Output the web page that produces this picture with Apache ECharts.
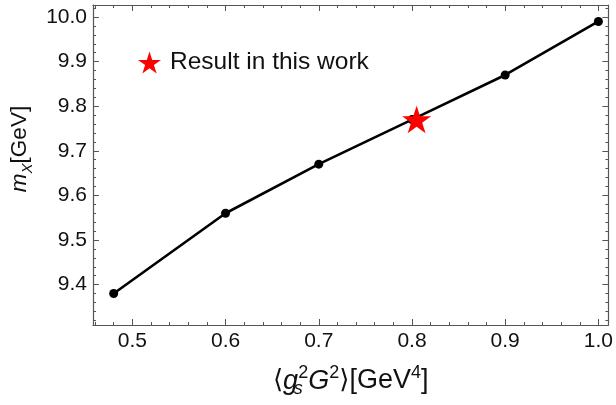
<!DOCTYPE html>
<html><head><meta charset="utf-8">
<script src="https://cdn.jsdelivr.net/npm/echarts@6/dist/echarts.min.js"></script>
<style>html,body{margin:0;padding:0;background:#fff}#c{width:616px;height:405px}</style>
</head><body><div id="c"></div>
<script>
// ---- data ----
const condensate = [0.48, 0.6, 0.7, 0.8, 0.9, 1.0];          // <g_s^2 G^2> [GeV^4]
const massX = [9.38, 9.56, 9.67, 9.77, 9.87, 9.99];           // m_X [GeV]
const resultPoint = [0.805, 9.77];                             // "Result in this work"
const resultLabel = 'Result in this work';
const xMajorTicks = [0.5, 0.6, 0.7, 0.8, 0.9, 1.0];
const xMinorTicks = [0.46, 0.48, 0.52, 0.54, 0.56, 0.58, 0.62, 0.64, 0.66, 0.68, 0.72, 0.74, 0.76, 0.78, 0.82, 0.84, 0.86, 0.88, 0.92, 0.94, 0.96, 0.98];
const yMajorTicks = [9.4, 9.5, 9.6, 9.7, 9.8, 9.9, 10.0];
const yMinorTicks = [9.32, 9.34, 9.36, 9.38, 9.42, 9.44, 9.46, 9.48, 9.52, 9.54, 9.56, 9.58, 9.62, 9.64, 9.66, 9.68, 9.72, 9.74, 9.76, 9.78, 9.82, 9.84, 9.86, 9.88, 9.92, 9.94, 9.96, 9.98, 10.02];

// ---- layout / style ----
const X_MIN = 0.4578, X_MAX = 1.0107;
const Y_MIN = 9.3094, Y_MAX = 10.0269;
const FRAME = '#555';
const FONT = 'Liberation Sans';
const starPath = 'path://M100,0 L122.45,69.1 L195.1,69.1 L136.3,111.8 L158.8,180.9 L100,138.2 L41.2,180.9 L63.7,111.8 L4.9,69.1 L77.55,69.1 Z';

function mkAxis(kind, position, ticks, len, withLabels, withLine, extra) {
  const a = {
    type: 'value', position: position,
    min: kind === 'x' ? X_MIN : Y_MIN, max: kind === 'x' ? X_MAX : Y_MAX,
    splitLine: {show: false},
    axisLine: {show: withLine, onZero: false, lineStyle: {color: FRAME, width: 1.2}},
    axisTick: {show: true, inside: true, length: len, customValues: ticks, lineStyle: {color: FRAME, width: 1}},
    axisLabel: withLabels ? {
      show: true, customValues: ticks, margin: 6,
      formatter: v => v.toFixed(1), fontSize: 21, color: '#111', fontFamily: FONT
    } : {show: false}
  };
  return Object.assign(a, extra || {});
}

const xTitle = {
  name: '{a|\u27E8}{i|g}{sub|s}{sup|2}{i|G}{sup|2}{a|\u27E9}{t|[GeV}{sup|4}{t|]}',
  nameLocation: 'middle', nameGap: 39,
  nameTextStyle: {
    rich: {
      a: {fontFamily: 'DejaVu Sans', fontSize: 26, lineHeight: 34, color: '#111'},
      i: {fontFamily: FONT, fontStyle: 'italic', fontSize: 27, lineHeight: 34, color: '#111'},
      t: {fontFamily: FONT, fontSize: 27, lineHeight: 34, color: '#111'},
      sub: {fontFamily: FONT, fontStyle: 'italic', fontSize: 18, lineHeight: 17, width: 0.1, align: 'left', verticalAlign: 'bottom', color: '#111'},
      sup: {fontFamily: FONT, fontSize: 18, lineHeight: 17, verticalAlign: 'top', color: '#111'}
    }
  }
};
const yTitle = {
  name: '{i|m}{sub|X}{t|[GeV]}',
  nameLocation: 'middle', nameGap: 57, nameRotate: 90,
  nameTextStyle: {
    padding: [0, 0, 0, 32],
    rich: {
      i: {fontFamily: FONT, fontStyle: 'italic', fontSize: 22.5, lineHeight: 30, color: '#111'},
      t: {fontFamily: FONT, fontSize: 22.5, lineHeight: 30, color: '#111'},
      sub: {fontFamily: FONT, fontStyle: 'italic', fontSize: 15, lineHeight: 15, verticalAlign: 'bottom', color: '#111'}
    }
  }
};

const chart = echarts.init(document.getElementById('c'), null, {renderer: 'canvas'});
chart.setOption({
  animation: false,
  backgroundColor: '#fff',
  grid: {left: 93, right: 6, top: 5, bottom: 80, containLabel: false},
  legend: {
    data: [{name: resultLabel, icon: starPath, itemStyle: {color: '#ff0000', opacity: 1}}],
    left: 138, top: 50, padding: 0, itemWidth: 23, itemHeight: 23,
    textStyle: {fontSize: 24.5, color: '#111', fontFamily: FONT, padding: [0, 0, 0, 4]},
    selectedMode: false
  },
  xAxis: [
    mkAxis('x', 'bottom', xMajorTicks, 6, true, true, xTitle),
    mkAxis('x', 'bottom', xMinorTicks, 3, false, false),
    mkAxis('x', 'top', xMajorTicks, 6, false, true),
    mkAxis('x', 'top', xMinorTicks, 3, false, false)
  ],
  yAxis: [
    mkAxis('y', 'left', yMajorTicks, 6, true, true, yTitle),
    mkAxis('y', 'left', yMinorTicks, 3, false, false),
    mkAxis('y', 'right', yMajorTicks, 6, false, true),
    mkAxis('y', 'right', yMinorTicks, 3, false, false)
  ],
  series: [
    {
      type: 'line', xAxisIndex: 0, yAxisIndex: 0,
      data: condensate.map((x, i) => [x, massX[i]]),
      symbol: 'circle', symbolSize: 9, showSymbol: true,
      itemStyle: {color: '#000'}, lineStyle: {color: '#000', width: 2.6},
      z: 2
    },
    {
      name: resultLabel, type: 'scatter', xAxisIndex: 0, yAxisIndex: 0,
      data: [resultPoint],
      symbol: starPath, symbolSize: 29, symbolKeepAspect: true,
      itemStyle: {color: '#ff0000', opacity: 1}, z: 5
    }
  ]
});
</script>
</body></html>
